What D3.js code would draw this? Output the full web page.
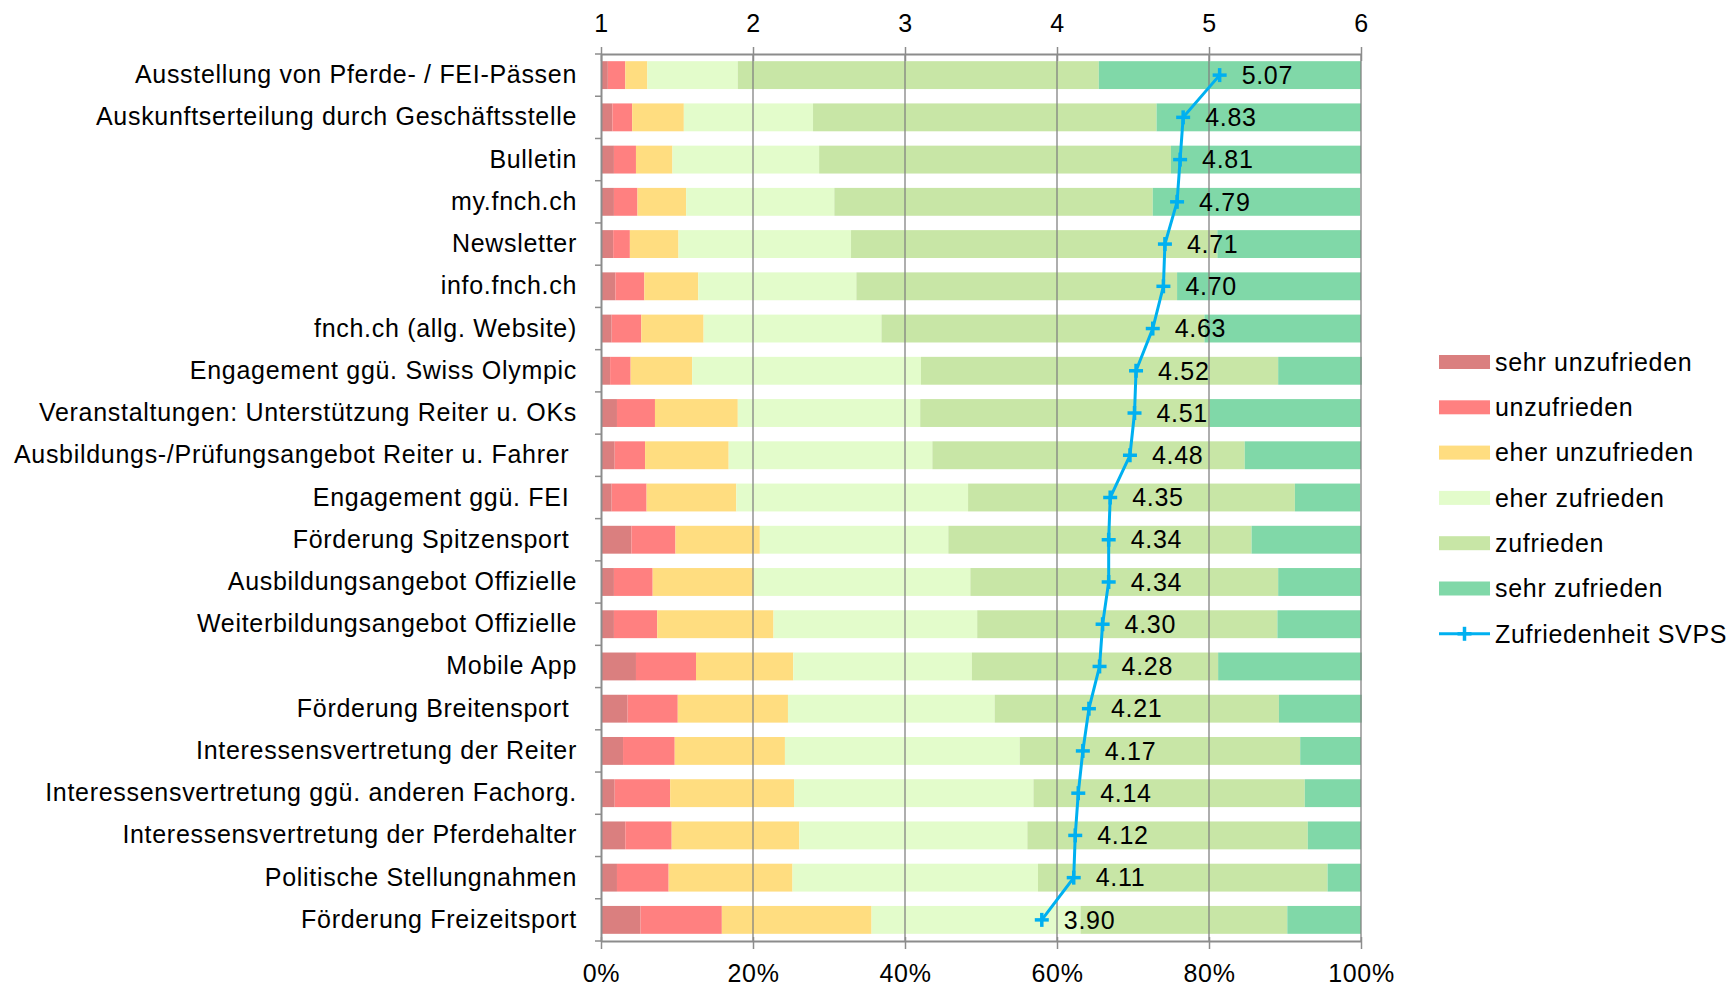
<!DOCTYPE html>
<html><head><meta charset="utf-8">
<script src="https://cdn.jsdelivr.net/npm/d3@7/dist/d3.min.js"></script>
<style>
html,body{margin:0;padding:0;background:#fff;}
svg text{font-family:"Liberation Sans",Arial,sans-serif;fill:#000;letter-spacing:0.7px;}
</style></head>
<body>
<svg id="chart" width="1730" height="984"></svg>
<script>
const categories = [
  "Ausstellung von Pferde- / FEI-Pässen",
  "Auskunftserteilung durch Geschäftsstelle",
  "Bulletin",
  "my.fnch.ch",
  "Newsletter",
  "info.fnch.ch",
  "fnch.ch (allg. Website)",
  "Engagement ggü. Swiss Olympic",
  "Veranstaltungen: Unterstützung Reiter u. OKs",
  "Ausbildungs-/Prüfungsangebot Reiter u. Fahrer\u00a0",
  "Engagement ggü. FEI\u00a0",
  "Förderung Spitzensport\u00a0",
  "Ausbildungsangebot Offizielle",
  "Weiterbildungsangebot Offizielle",
  "Mobile App",
  "Förderung Breitensport\u00a0",
  "Interessensvertretung der Reiter",
  "Interessensvertretung ggü. anderen Fachorg.",
  "Interessensvertretung der Pferdehalter",
  "Politische Stellungnahmen",
  "Förderung Freizeitsport"
];
const seriesNames = ["sehr unzufrieden","unzufrieden","eher unzufrieden","eher zufrieden","zufrieden","sehr zufrieden"];
const lineName = "Zufriedenheit SVPS";
// percentages per category
const sehrUnzufrieden = [0.9,1.5,1.7,1.7,1.6,1.9,1.4,1.2,2.1,1.8,1.4,4.0,1.7,1.7,4.6,3.5,2.9,1.8,3.2,2.1,5.2];
const unzufrieden     = [2.3,2.6,2.9,3.1,2.2,3.8,3.9,2.7,5.0,4.0,4.6,5.8,5.1,5.7,7.9,6.6,6.8,7.3,6.1,6.8,10.7];
const eherUnzufrieden = [2.9,6.8,4.8,6.4,6.4,7.1,8.2,8.1,10.9,11.0,11.8,11.1,13.3,15.3,12.8,14.5,14.5,16.3,16.8,16.3,19.7];
const eherZufrieden   = [11.9,17.0,19.3,19.5,22.7,20.8,23.4,30.1,24.0,26.8,30.5,24.8,28.5,26.8,23.5,27.2,30.9,31.5,30.0,32.3,27.5];
const zufrieden       = [47.5,45.2,46.3,41.9,48.2,42.2,42.5,47.0,38.1,41.1,43.0,39.9,40.5,39.5,32.4,37.4,36.9,35.7,36.9,38.1,27.2];
const sehrZufrieden   = [34.5,26.9,25.0,27.3,18.9,24.2,20.6,11.0,19.9,15.3,8.6,14.4,10.9,11.0,18.9,10.9,8.0,7.4,7.0,4.4,9.7];
const averages = [5.07,4.83,4.81,4.79,4.71,4.70,4.63,4.52,4.51,4.48,4.35,4.34,4.34,4.30,4.28,4.21,4.17,4.14,4.12,4.11,3.90];
const topTicks = [1,2,3,4,5,6];
const bottomTicks = [0,20,40,60,80,100];
const colors = ["#DA7F7F","#FF8080","#FFDD80","#E3FCCB","#C8E6A6","#80D8A8"];
const lineColor = "#00B0F0";

const seriesValues = [sehrUnzufrieden,unzufrieden,eherUnzufrieden,eherZufrieden,zufrieden,sehrZufrieden];
const table = categories.map((c,i)=>{
  const o = {cat:c};
  seriesNames.forEach((s,j)=>{ o[s] = seriesValues[j][i]; });
  return o;
});

const FS = 25;
const FF = "Liberation Sans, Arial, sans-serif";
const svg = d3.select("#chart");
const x0 = 601, x1 = 1361, yTop = 54, yBot = 941;
const x = d3.scaleLinear().domain([0,100]).range([x0,x1]);
const xTop = d3.scaleLinear().domain([1,6]).range([x0,x1]);
const y = d3.scaleBand().domain(categories).range([yTop,yBot]).paddingInner(0.34).paddingOuter(0.17);

const stacked = d3.stack().keys(seriesNames)(table);

// bars
svg.append("g").selectAll("g").data(stacked).join("g")
  .attr("fill",(d,i)=>colors[i])
  .selectAll("rect").data(d=>d).join("rect")
  .attr("x",d=>x(d[0]))
  .attr("width",d=>x(d[1])-x(d[0]))
  .attr("y",d=>y(d.data.cat))
  .attr("height",y.bandwidth());

// gridlines
svg.append("g").selectAll("line").data([20,40,60,80,100]).join("line")
  .attr("x1",d=>x(d)).attr("x2",d=>x(d))
  .attr("y1",yTop).attr("y2",yBot)
  .attr("stroke","#7f7f7f").attr("stroke-opacity",0.85).attr("stroke-width",1.5);

// top axis
const gTop = svg.append("g").attr("transform",`translate(0,${yTop})`)
  .call(d3.axisTop(xTop).tickValues(topTicks).tickFormat(d3.format("d")).tickSize(7).tickSizeOuter(0));
gTop.select(".domain").attr("stroke","#8c8c8c").attr("stroke-width",2);
gTop.selectAll(".tick line").attr("stroke","#8c8c8c").attr("stroke-width",1.5).attr("y2",-7).attr("y1",7);
gTop.selectAll(".tick text").attr("font-size",FS).attr("y",-22).attr("dy",0).style("font-family",FF);

// bottom axis
const gBot = svg.append("g").attr("transform",`translate(0,${yBot})`)
  .call(d3.axisBottom(x).tickValues(bottomTicks).tickFormat(d=>d+"%").tickSize(7).tickSizeOuter(0));
gBot.select(".domain").attr("stroke","#8c8c8c").attr("stroke-width",2);
gBot.selectAll(".tick line").attr("stroke","#8c8c8c").attr("stroke-width",1.5).attr("y1",-4).attr("y2",8);
gBot.selectAll(".tick text").attr("font-size",FS).attr("y",41).attr("dy",0).style("font-family",FF);

// left axis
const gLeft = svg.append("g").attr("transform",`translate(${x0},0)`)
  .call(d3.axisLeft(y).tickSize(0).tickSizeOuter(0).tickPadding(24));
gLeft.select(".domain").attr("stroke","#8c8c8c").attr("stroke-width",2);
gLeft.selectAll(".tick text").attr("font-size",FS).style("font-family",FF);
// category boundary ticks
svg.append("g").selectAll("line").data(d3.range(categories.length+1)).join("line")
  .attr("x1",x0-6).attr("x2",x0)
  .attr("y1",i=>yTop + i*(yBot-yTop)/categories.length)
  .attr("y2",i=>yTop + i*(yBot-yTop)/categories.length)
  .attr("stroke","#8c8c8c").attr("stroke-width",1.5);

// line
const pts = categories.map((c,i)=>[xTop(averages[i]), y(c)+y.bandwidth()/2]);
svg.append("path").datum(pts)
  .attr("d",d3.line())
  .attr("fill","none").attr("stroke",lineColor).attr("stroke-width",3);
const mk = svg.append("g").selectAll("g").data(pts).join("g")
  .attr("transform",d=>`translate(${d[0]},${d[1]})`);
mk.append("line").attr("x1",-7).attr("x2",7).attr("stroke",lineColor).attr("stroke-width",3.5);
mk.append("line").attr("y1",-7).attr("y2",7).attr("stroke",lineColor).attr("stroke-width",3.5);
svg.append("g").selectAll("text").data(pts).join("text")
  .attr("x",d=>d[0]+22).attr("y",d=>d[1]).attr("dy","0.35em")
  .attr("font-size",FS)
  .text((d,i)=>averages[i].toFixed(2));

// legend
const lg = svg.append("g");
const lx = 1439, ly0 = 362, lstep = 45.3;
seriesNames.forEach((s,i)=>{
  lg.append("rect").attr("x",lx).attr("y",ly0+i*lstep-7).attr("width",51).attr("height",14).attr("fill",colors[i]);
  lg.append("text").attr("x",lx+56).attr("y",ly0+i*lstep).attr("dy","0.35em").attr("font-size",FS).text(s);
});
const lly = ly0+6*lstep;
lg.append("line").attr("x1",lx).attr("x2",lx+51).attr("y1",lly).attr("y2",lly).attr("stroke",lineColor).attr("stroke-width",3);
lg.append("line").attr("x1",lx+25.5-7).attr("x2",lx+25.5+7).attr("y1",lly).attr("y2",lly).attr("stroke",lineColor).attr("stroke-width",3.5);
lg.append("line").attr("x1",lx+25.5).attr("x2",lx+25.5).attr("y1",lly-7).attr("y2",lly+7).attr("stroke",lineColor).attr("stroke-width",3.5);
lg.append("text").attr("x",lx+56).attr("y",lly).attr("dy","0.35em").attr("font-size",FS).text(lineName);
</script>
</body></html>
